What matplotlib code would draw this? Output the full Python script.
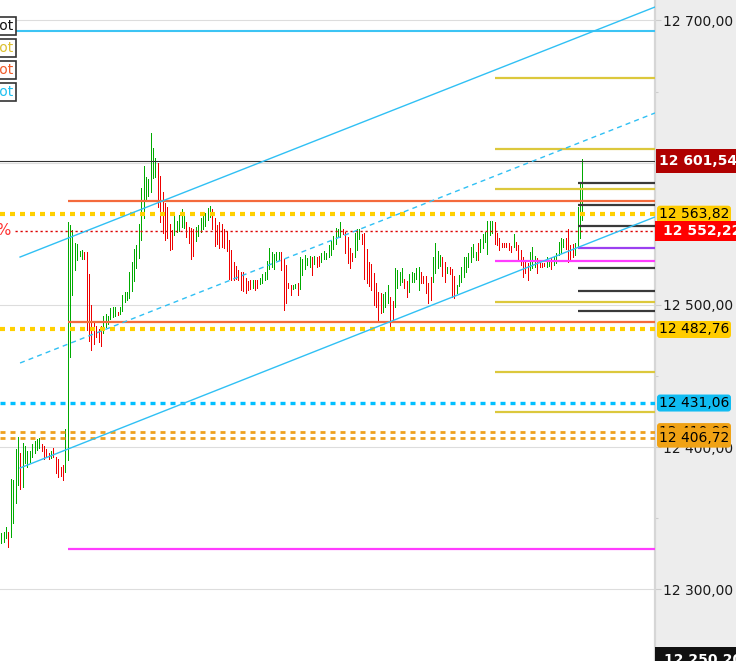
import matplotlib
matplotlib.use("Agg")
import matplotlib.pyplot as plt
from matplotlib.ticker import MultipleLocator, FuncFormatter
from matplotlib.patches import FancyBboxPatch
from matplotlib.transforms import IdentityTransform

plt.rcParams['lines.scale_dashes'] = False
plt.rcParams['font.family'] = ['DejaVu Sans']

# ---------------- data ----------------
highs = [
    12339.7, 12340.4, 12343.9, 12340.4, 12377.7, 12377.0, 12398.8, 12407.2, 12395.9, 12403.0,
    12400.9, 12397.3, 12397.3, 12402.3, 12404.4, 12405.8, 12406.5, 12402.3, 12400.9, 12398.8,
    12395.9, 12397.3, 12399.5, 12393.1, 12391.7, 12386.1, 12387.5, 12412.8, 12558.3, 12556.2,
    12552.7, 12543.6, 12542.9, 12537.9, 12538.6, 12537.2, 12537.2, 12521.8, 12500.0, 12487.3,
    12485.2, 12483.1, 12485.2, 12492.3, 12493.7, 12492.3, 12497.9, 12498.6, 12498.6, 12495.1,
    12498.6, 12507.0, 12509.1, 12509.1, 12523.2, 12530.2, 12539.4, 12542.2, 12557.0, 12582.2,
    12597.7, 12590.0, 12588.6, 12620.9, 12610.4, 12603.3, 12599.8, 12590.7, 12579.4, 12571.7,
    12568.9, 12556.9, 12552.7, 12562.6, 12559.0, 12563.3, 12567.5, 12564.7, 12558.3, 12554.8,
    12554.1, 12553.4, 12554.8, 12556.2, 12561.1, 12565.4, 12564.7, 12568.2, 12569.6, 12567.5,
    12561.1, 12556.2, 12558.3, 12556.9, 12553.4, 12552.0, 12545.7, 12538.7, 12530.2, 12527.4,
    12524.6, 12523.2, 12523.2, 12518.9, 12516.9, 12517.6, 12517.6, 12517.6, 12517.6, 12518.9,
    12521.8, 12523.2, 12530.9, 12540.1, 12537.2, 12535.8, 12537.2, 12537.2, 12537.2, 12532.3,
    12528.1, 12515.4, 12514.0, 12514.0, 12514.7, 12515.4, 12533.7, 12532.3, 12535.1, 12533.0,
    12534.4, 12533.7, 12534.4, 12533.7, 12534.4, 12536.5, 12537.9, 12536.5, 12542.2, 12545.0,
    12548.5, 12554.1, 12553.4, 12558.3, 12553.4, 12551.3, 12547.8, 12540.1, 12536.5, 12550.6,
    12553.4, 12553.4, 12549.9, 12550.6, 12539.4, 12530.2, 12528.8, 12522.5, 12515.4, 12509.1,
    12508.4, 12507.7, 12509.1, 12514.0, 12505.6, 12502.8, 12526.0, 12524.6, 12523.2, 12526.0,
    12518.3, 12516.9, 12521.8, 12523.2, 12522.5, 12526.0, 12526.7, 12523.2, 12520.4, 12520.4,
    12515.4, 12519.7, 12533.7, 12543.6, 12537.9, 12535.1, 12533.7, 12530.2, 12526.7, 12526.7,
    12525.3, 12520.4, 12514.0, 12521.1, 12526.7, 12533.7, 12533.7, 12536.5, 12540.8, 12542.9,
    12537.2, 12543.6, 12546.4, 12549.9, 12551.3, 12559.0, 12559.0, 12559.0, 12558.3, 12550.6,
    12547.1, 12543.6, 12543.6, 12543.6, 12543.6, 12541.5, 12549.9, 12544.3, 12542.2, 12538.7,
    12533.7, 12530.2, 12529.5, 12537.2, 12540.8, 12534.4, 12533.0, 12530.2, 12529.5, 12529.5,
    12533.7, 12531.6, 12533.0, 12533.7, 12536.5, 12544.3, 12547.1, 12546.4, 12547.1, 12553.4,
    12542.2, 12542.9, 12543.6, 12568.9, 12585.7, 12602.6,
]
lows = [
    12332.7, 12333.4, 12336.2, 12329.9, 12336.9, 12346.7, 12360.8, 12373.4, 12370.6, 12372.0,
    12388.9, 12386.1, 12389.6, 12393.1, 12395.9, 12398.1, 12399.5, 12397.3, 12391.7, 12393.1,
    12391.7, 12392.4, 12393.1, 12381.9, 12379.1, 12379.8, 12377.0, 12382.6, 12391.0, 12463.4,
    12507.0, 12524.6, 12531.6, 12534.4, 12532.3, 12532.3, 12482.4, 12474.7, 12468.4, 12472.6,
    12477.5, 12474.0, 12471.2, 12480.3, 12484.5, 12486.6, 12490.2, 12491.6, 12492.3, 12493.0,
    12493.7, 12495.8, 12502.1, 12503.5, 12504.9, 12509.8, 12516.9, 12526.0, 12533.0, 12545.7,
    12561.1, 12573.8, 12576.6, 12579.4, 12589.3, 12590.0, 12568.9, 12558.3, 12550.6, 12545.7,
    12547.1, 12538.7, 12539.4, 12549.2, 12551.3, 12552.0, 12554.8, 12554.1, 12547.8, 12543.6,
    12532.3, 12534.4, 12545.0, 12548.5, 12551.3, 12553.4, 12555.5, 12559.7, 12561.8, 12553.4,
    12541.5, 12542.9, 12540.1, 12540.8, 12540.1, 12537.9, 12518.3, 12517.6, 12517.6, 12518.3,
    12517.6, 12510.5, 12509.8, 12508.4, 12510.5, 12511.2, 12511.9, 12510.5, 12511.9, 12514.7,
    12515.4, 12517.6, 12518.3, 12525.3, 12526.7, 12525.3, 12531.6, 12531.6, 12524.6, 12496.5,
    12501.4, 12511.9, 12507.0, 12511.2, 12511.9, 12507.0, 12511.2, 12521.1, 12525.3, 12528.1,
    12526.7, 12521.1, 12528.8, 12526.7, 12527.4, 12530.2, 12532.3, 12532.3, 12533.7, 12535.1,
    12539.4, 12542.9, 12547.8, 12547.8, 12549.9, 12536.5, 12529.5, 12526.0, 12530.9, 12533.7,
    12538.7, 12546.4, 12542.9, 12518.3, 12515.4, 12513.3, 12510.5, 12500.0, 12498.6, 12488.0,
    12494.4, 12495.1, 12498.6, 12501.4, 12484.5, 12488.0, 12498.6, 12511.9, 12514.0, 12516.2,
    12511.9, 12505.6, 12509.1, 12516.2, 12516.2, 12518.3, 12510.5, 12515.4, 12515.4, 12508.4,
    12501.4, 12503.5, 12516.2, 12522.5, 12526.0, 12527.4, 12520.4, 12516.2, 12522.5, 12521.8,
    12505.6, 12504.9, 12508.4, 12513.3, 12516.2, 12519.7, 12523.2, 12526.7, 12530.2, 12533.7,
    12531.6, 12531.6, 12537.2, 12540.1, 12544.3, 12535.8, 12549.2, 12550.6, 12542.9, 12542.2,
    12538.7, 12540.8, 12540.8, 12540.8, 12538.7, 12537.2, 12540.8, 12538.7, 12531.6, 12528.1,
    12519.7, 12522.5, 12517.6, 12524.6, 12526.0, 12526.7, 12522.5, 12526.7, 12526.7, 12527.4,
    12526.7, 12527.4, 12525.3, 12528.1, 12529.5, 12535.1, 12536.5, 12540.8, 12539.4, 12530.2,
    12531.6, 12533.7, 12535.1, 12540.1, 12547.1, 12559.7,
]
direction = (
    "gggrggggrg" "gggggggrrr" "rgrrrrrggg" "gggggrrrrr" "rrrggggggr"
    "gggggggggg" "ggggggrrrr" "rrrgggggrr" "rrgggggggr" "rrrrrrrrrr"
    "rrrrrrgrrg" "ggggggggrr" "rrrggrgggg" "grgrrggggg" "ggggrrrrrg"
    "ggrrrrrrrr" "rgggrrgggg" "rrgggggrrr" "rrggggrrgr" "rrgggggggg"
    "grggggggrr" "rrrrrrgrrr" "rrrgggrrrr" "ggrgggggrr" "rrgggg"
)

last_price = 12601.54
change_line = 12552.22
yellow_dotted = [12563.82, 12482.76]
cyan_dotted = 12431.06
orange_dashed = [12410.98, 12406.72]
cyan_level = 12692.6
orange_levels = [12573.1, 12488.0]          # from session start
magenta_long = 12328.5                       # from session start
gold_levels = [12659.6, 12609.6, 12581.5, 12502.1, 12452.9, 12424.8]  # from day start
magenta_short = 12530.9                      # from day start
purple_level = 12540.1                       # from last bars
dark_levels = [12585.8, 12570.3, 12555.5, 12526.0, 12509.8, 12495.8]  # from last bars
session_start = 28
day_start = 208
recent_start = 243

channel_x = [7.9, 275.7]
channel_lower = [12385.4, 12561.9]
channel_mid = [12459.2, 12635.0]
channel_upper = [12533.7, 12709.5]

y_ticks = [12300, 12400, 12500, 12600, 12700]
bottom_label = 12250.20

# ---------------- figure ----------------
W, H = 736, 661
fig = plt.figure(figsize=(W / 100, H / 100), dpi=100, facecolor='#ededed')
ax = fig.add_axes([0, 0, 655 / W, 1])
ax.set_facecolor('white')
n = len(highs)
XMAX = 275.66
ax.set_xlim(-0.56, XMAX)
ax.set_ylim(12249.7, 12714.4)

for s in ['top', 'left', 'bottom']:
    ax.spines[s].set_visible(False)
ax.spines['right'].set_color('#d6d6d6')
ax.spines['right'].set_linewidth(1.6)
ax.set_xticks([])
ax.yaxis.tick_right()
ax.yaxis.set_major_locator(MultipleLocator(100))
ax.yaxis.set_minor_locator(MultipleLocator(50))
ax.yaxis.set_major_formatter(FuncFormatter(
    lambda v, p: f"{v:,.2f}".replace(",", " ").replace(".", ",")))
ax.tick_params(axis='y', which='major', length=4.5, width=0.8, color='#cccccc',
               pad=1.5, labelsize=10, labelcolor='#1a1a1a')
ax.tick_params(axis='y', which='minor', length=2.2, width=0.8, color='#cccccc')
for t in y_ticks:
    ax.axhline(t, color='#dddddd', lw=0.8, zorder=1)

# bars
xs = list(range(n))
cols = ['#00aa00' if d == 'g' else '#ee0000' for d in direction]
ax.vlines(xs, lows, highs, colors=cols, lw=0.72, antialiased=False, zorder=2)

# levels
ax.axhline(cyan_level, color='#3cc4f4', lw=1.5, zorder=3)
ax.axhline(last_price, color='#333333', lw=0.8, zorder=3)
ax.hlines(orange_levels, session_start, XMAX, colors='#f46a3c', lw=1.6, zorder=3)
ax.hlines(magenta_long, session_start, XMAX, colors='#ff3cff', lw=1.6, zorder=3)
ax.hlines(gold_levels, day_start, XMAX, colors='#dcc83c', lw=1.6, zorder=3)
ax.hlines(magenta_short, day_start, XMAX, colors='#ff3cff', lw=1.6, zorder=3)
ax.hlines(dark_levels, recent_start, XMAX, colors='#3a3a3a', lw=1.6, zorder=3)
ax.hlines(purple_level, recent_start, XMAX, colors='#9b40f0', lw=1.6, zorder=3)

for v in yellow_dotted:
    ax.axhline(v, color='#ffd000', lw=3.0, dashes=(3.6, 3.6), zorder=4)
ax.axhline(cyan_dotted, color='#00bfff', lw=2.4, dashes=(3.6, 3.6), zorder=4)
for v in orange_dashed:
    ax.axhline(v, color='#eea020', lw=2.0, dashes=(3.6, 3.6), zorder=4)
ax.axhline(change_line, xmin=15 / 655, color='#dd0000', lw=1.0, dashes=(1.6, 2.0), zorder=4)

# channel
ax.plot(channel_x, channel_upper, color='#30c0f4', lw=1.0, zorder=4)
ax.plot(channel_x, channel_lower, color='#30c0f4', lw=1.0, zorder=4)
ax.plot(channel_x, channel_mid, color='#30c0f4', lw=1.0, dashes=(3.6, 3.0), zorder=4)

# ---------------- price labels on the right ----------------
_z = [10]

def price_label(v, text, fc, tc, bold, x0, x1, h, tx, rounded=False):
    y = ax.transData.transform((0, v))[1]
    style = 'round,pad=0,rounding_size=3' if rounded else 'square,pad=0'
    p = FancyBboxPatch((x0, y - h / 2), x1 - x0, h, boxstyle=style,
                       transform=IdentityTransform(), fc=fc, ec='none', zorder=_z[0])
    fig.patches.append(p)
    fig.text(tx, y, text, transform=IdentityTransform(), color=tc, fontsize=10,
             fontweight='bold' if bold else 'normal', va='center', ha='left',
             zorder=_z[0] + 1)
    _z[0] += 2

def fmt(v):
    return f"{v:,.2f}".replace(",", " ").replace(".", ",")

price_label(last_price, fmt(last_price), '#b00000', 'white', True, 656, 745, 24, 659)
price_label(yellow_dotted[0], fmt(yellow_dotted[0]), '#ffcc00', 'black', False, 657, 731, 17, 659, True)
price_label(change_line, fmt(change_line), '#ff0000', 'white', True, 655, 745, 20, 663)
price_label(yellow_dotted[1], fmt(yellow_dotted[1]), '#ffcc00', 'black', False, 657, 731, 17, 659, True)
price_label(cyan_dotted, fmt(cyan_dotted), '#10bcf2', 'black', False, 657, 731, 17, 659, True)
price_label(orange_dashed[0], fmt(orange_dashed[0]), '#f0a214', 'black', False, 657, 731, 17, 659, True)
price_label(orange_dashed[1], fmt(orange_dashed[1]), '#f0a214', 'black', False, 657, 731, 20, 659, True)
price_label(bottom_label, fmt(bottom_label), '#111111', 'white', True, 655, 745, 26, 664)

# ---------------- cut-off labels on the left ----------------
legend_colors = ['#111111', '#dcc030', '#f05a28', '#1ec0f0']
for i, c in enumerate(legend_colors):
    yc = H - (26 + 22 * i)
    fig.text(14, yc, "Pivot", transform=IdentityTransform(), color=c, fontsize=10,
             ha='right', va='center', zorder=40,
             bbox=dict(boxstyle='square,pad=0.12', fc='white', ec='#333333', lw=1.2))
yp = ax.transData.transform((0, change_line))[1]
fig.text(11, yp, "0,12%", transform=IdentityTransform(), color='#ff3030', fontsize=11,
         ha='right', va='center', zorder=40)

fig.savefig('out.png', dpi=100, facecolor=fig.get_facecolor())
